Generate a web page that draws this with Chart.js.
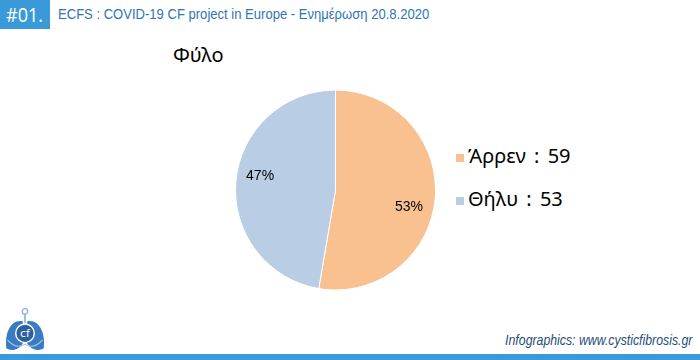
<!DOCTYPE html>
<html>
<head>
<meta charset="utf-8">
<script src="https://cdn.jsdelivr.net/npm/chart.js@4"></script>
<style>
  html, body { margin: 0; padding: 0; }
  body { width: 700px; height: 360px; position: relative; overflow: hidden; background: #fff; font-family: "Liberation Sans", sans-serif; }
  #badge { position: absolute; left: 0; top: 0; width: 50px; height: 29px; background: #3a9ad9; color: #fff;
    font-family: "Open Sans", sans-serif; font-size: 20px; line-height: 29px; text-align: center; }
  #badge span { display: inline-block; transform: scaleX(0.9); }
  #header { position: absolute; left: 58px; top: 5px; color: #2e75b6; font-size: 15px; white-space: nowrap;
    font-family: "Liberation Sans", sans-serif; transform: scaleX(0.87); transform-origin: left top; }
  #title { position: absolute; left: 173px; top: 41px; font-size: 20px; font-family: "Noto Sans", sans-serif; color: #000; }
  #pie-wrap { position: absolute; left: 235px; top: 89px; width: 201px; height: 202px; }
  #legend { position: absolute; left: 456px; top: 142px; font-family: "Noto Sans", sans-serif; font-size: 20px; color: #000; }
  #legend div { height: 43px; display: flex; align-items: flex-start; white-space: nowrap; }
  #legend span.sw { display: inline-block; width: 8px; height: 8px; margin: 12px 4px 0 0; }
  #legend span.sep { margin: 0 3px; }
  #footer { position: absolute; right: 8px; top: 331px; color: #1f4e79; font-style: italic; font-size: 15px; white-space: nowrap;
    font-family: "Liberation Sans", sans-serif; transform: scaleX(0.82); transform-origin: right top; }
  #bar { position: absolute; left: 0; top: 354px; width: 700px; height: 6px; background: #3a9ad9; }
  #logo { position: absolute; left: 4px; top: 307px; width: 42px; height: 46px; }
</style>
</head>
<body>
<div id="badge"><span>#01.</span></div>
<div id="header">ECFS : COVID-19 CF project in Europe - Ενημέρωση 20.8.2020</div>
<div id="title">Φύλο</div>
<div id="pie-wrap"><canvas id="pie"></canvas></div>
<div id="legend"></div>
<svg id="logo" viewBox="0 0 38 42">
  <circle cx="19" cy="4" r="2.5" fill="none" stroke="#8fb3d9" stroke-width="1.2"/>
  <line x1="19" y1="6.5" x2="19" y2="15" stroke="#8fb3d9" stroke-width="1.5"/>
  <path d="M17 13 C6 11 0 24 2 38 C8 41 14 38 17 33 Z" fill="#3a7cc4"/>
  <path d="M21 13 C32 11 38 24 36 38 C30 41 24 38 21 33 Z" fill="#3a7cc4"/>
  <path d="M3 30 C8 36 14 37 19 34 C24 37 30 36 35 30" fill="none" stroke="#a9c6e6" stroke-width="1"/>
  <circle cx="19" cy="24" r="8.5" fill="#2e5f9e" stroke="#fff" stroke-width="1.3"/>
  <text x="19" y="27.5" text-anchor="middle" font-size="10" fill="#fff" font-family="DejaVu Sans">cf</text>
</svg>
<div id="footer">Infographics: www.cysticfibrosis.gr</div>
<div id="bar"></div>

<script>
// ----------------------------
// Data
// ----------------------------
const labels = ["Άρρεν", "Θήλυ"];
const values = [59, 53];
const colors = ["#f9c090", "#b9cde5"];

// legend built from the data
const legend = document.getElementById("legend");
labels.forEach((l, i) => {
  const row = document.createElement("div");
  row.innerHTML = `<span class="sw" style="background:${colors[i]}"></span><span>${l}&nbsp;<span class="sep">:</span>&nbsp;${values[i]}</span>`;
  legend.appendChild(row);
});

// percent labels inside the slices
const percentLabels = {
  id: "percentLabels",
  afterDatasetsDraw(chart) {
    const ctx = chart.ctx;
    const meta = chart.getDatasetMeta(0);
    const total = values.reduce((a, b) => a + b, 0);
    ctx.save();
    ctx.font = '14px "Liberation Sans", sans-serif';
    ctx.fillStyle = "#000";
    ctx.textAlign = "center";
    ctx.textBaseline = "middle";
    meta.data.forEach((arc, i) => {
      const p = arc.getProps(["x", "y", "startAngle", "endAngle", "outerRadius"], true);
      const a = (p.startAngle + p.endAngle) / 2 + 0.12;
      const r = p.outerRadius * 0.76;
      const pct = Math.round(values[i] / total * 100) + "%";
      ctx.fillText(pct, p.x + Math.cos(a) * r - 1, p.y + Math.sin(a) * r + 2);
    });
    ctx.restore();
  }
};

new Chart(document.getElementById("pie"), {
  type: "pie",
  data: {
    labels: labels,
    datasets: [{
      data: values,
      backgroundColor: colors,
      borderColor: "#fff",
      borderWidth: 1,
      hoverOffset: 0
    }]
  },
  options: {
    responsive: true,
    maintainAspectRatio: false,
    animation: false,
    plugins: { legend: { display: false }, tooltip: { enabled: false } }
  },
  plugins: [percentLabels]
});
</script>
</body>
</html>
